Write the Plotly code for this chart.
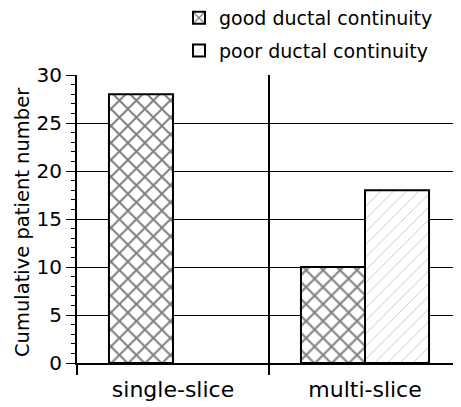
import plotly.graph_objects as go

categories = ["single-slice", "multi-slice"]
good_values = [28, 10]
poor_values = [None, 18]
series_names = ["good ductal continuity", "poor ductal continuity"]
ytick_vals = [0, 5, 10, 15, 20, 25, 30]
y_title = "Cumulative patient number"

FONT = "DejaVu Sans"

# the page body adds an 8px offset; figure is sized so the plot lands where the reference's does
W, H = 453, 399
L, T, B, R = 69, 67, 44, 0
PW, PH = W - L - R, H - T - B

fig = go.Figure()
fig.add_trace(go.Bar(
    x=categories, y=good_values, name=series_names[0],
    legendgroup="g1",
    marker=dict(color="white", line=dict(color="black", width=2),
                pattern=dict(shape="x", fgcolor="black", bgcolor="white",
                             size=12, solidity=0.3, fillmode="overlay")),
))
fig.add_trace(go.Bar(
    x=categories, y=poor_values, name=series_names[1],
    legendgroup="g2",
    marker=dict(color="white", line=dict(color="black", width=2),
                pattern=dict(shape="/", fgcolor="#888888", bgcolor="white",
                             size=9, solidity=0.1, fillmode="overlay")),
))

fig.add_annotation(
    text=y_title, textangle=-90, showarrow=False,
    xref="paper", yref="paper",
    x=(14 - L) / PW, y=(H - B - 214) / PH,
    xanchor="center", yanchor="middle",
    font=dict(family=FONT, size=19.5, color="black"),
)

fig.update_layout(
    width=W, height=H,
    margin=dict(l=L, r=R, t=T, b=B, autoexpand=False),
    paper_bgcolor="white", plot_bgcolor="white",
    barmode="group", bargap=0.333, bargroupgap=0,
    font=dict(family=FONT, color="black", size=19),
    showlegend=True,
    legend=dict(
        xref="container", yref="paper",
        x=171 / W, y=1 + (T + 9) / PH, xanchor="left", yanchor="top",
        font=dict(family=FONT, size=19, color="black"),
        bgcolor="rgba(0,0,0,0)", traceorder="grouped", tracegroupgap=5,
    ),
    xaxis=dict(
        type="category", tickson="boundaries",
        ticks="outside", ticklen=10, tickwidth=1.5, tickcolor="black",
        showgrid=True, gridcolor="black", gridwidth=1.5,
        showline=True, linecolor="black", linewidth=2,
        tickfont=dict(family=FONT, size=22, color="black"),
        ticklabelstandoff=6,
        zeroline=False, automargin=False,
    ),
    yaxis=dict(
        range=[0, 30], tickvals=ytick_vals,
        ticks="outside", ticklen=9, tickwidth=1, tickcolor="black",
        minor=dict(dtick=1, ticks="outside", ticklen=4, tickcolor="black", showgrid=False),
        showgrid=True, gridcolor="black", gridwidth=1,
        showline=True, linecolor="black", linewidth=2,
        zeroline=False, automargin=False,
        tickfont=dict(family=FONT, size=20, color="black"),
    ),
)

fig.write_html("out.html")
